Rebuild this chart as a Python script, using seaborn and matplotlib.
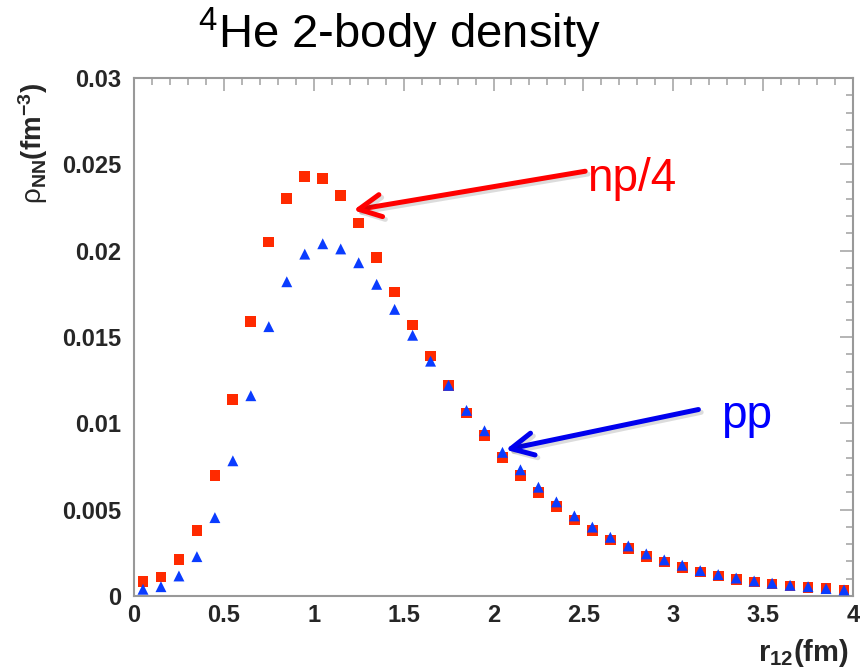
import matplotlib
matplotlib.use("Agg")
import matplotlib.pyplot as plt
import matplotlib.patheffects as pe
from matplotlib.ticker import MultipleLocator, FuncFormatter
import seaborn as sns
import pandas as pd

# ---- data ----
r12 = [0.05, 0.15, 0.25, 0.35, 0.45, 0.55, 0.65, 0.75, 0.85, 0.95,
       1.05, 1.15, 1.25, 1.35, 1.45, 1.55, 1.65, 1.75, 1.85, 1.95,
       2.05, 2.15, 2.25, 2.35, 2.45, 2.55, 2.65, 2.75, 2.85, 2.95,
       3.05, 3.15, 3.25, 3.35, 3.45, 3.55, 3.65, 3.75, 3.85, 3.95]
np4 = [0.00083, 0.0011, 0.0021, 0.0038, 0.0070, 0.0114, 0.0159, 0.0205, 0.0230, 0.0243,
       0.0242, 0.0232, 0.0216, 0.0196, 0.0176, 0.0157, 0.0139, 0.0122, 0.0106, 0.0093,
       0.0080, 0.0070, 0.0060, 0.0052, 0.0044, 0.0038, 0.00325, 0.00275, 0.00228, 0.00197,
       0.00166, 0.00139, 0.00116, 0.00097, 0.00081, 0.0007, 0.00058, 0.0005, 0.00043, 0.00035]
pp = [0.00039, 0.00054, 0.00116, 0.00228, 0.00454, 0.00783, 0.0116, 0.0156, 0.0182, 0.0198,
      0.0204, 0.0201, 0.0193, 0.01805, 0.0166, 0.0151, 0.0136, 0.0122, 0.01075, 0.00957,
      0.00832, 0.00731, 0.0063, 0.00545, 0.00464, 0.00399, 0.0034, 0.0029, 0.00244, 0.00209,
      0.00178, 0.00147, 0.00124, 0.00104, 0.00087, 0.00074, 0.00062, 0.00054, 0.00043, 0.00035]
x_ticks = [0, 0.5, 1, 1.5, 2, 2.5, 3, 3.5, 4]
y_ticks = [0, 0.005, 0.01, 0.015, 0.02, 0.025, 0.03]

df_np = pd.DataFrame({"r12": r12, "rho": np4})
df_pp = pd.DataFrame({"r12": r12, "rho": pp})

sns.set_theme(style="white")
plt.rcParams["font.family"] = ["Liberation Sans", "DejaVu Sans"]
plt.rcParams["mathtext.fontset"] = "custom"
plt.rcParams["mathtext.rm"] = "Liberation Sans"
plt.rcParams["mathtext.it"] = "Liberation Sans:italic"
plt.rcParams["mathtext.bf"] = "Liberation Sans:bold"

fig = plt.figure(figsize=(8.61, 6.68), dpi=100)
ax = fig.add_axes([134 / 861, 72 / 668, 719 / 861, 518 / 668])

sns.scatterplot(data=df_np, x="r12", y="rho", marker="s", s=60, color="#ff2a00",
                edgecolor="none", ax=ax, zorder=3)
sns.scatterplot(data=df_pp, x="r12", y="rho", marker="^", s=62, color="#0a3cff",
                edgecolor="none", ax=ax, zorder=4)

ax.set_xlim(0, 4)
ax.set_ylim(0, 0.03)
ax.set_xticks(x_ticks)
ax.set_yticks(y_ticks)
ax.xaxis.set_minor_locator(MultipleLocator(0.1))
ax.yaxis.set_minor_locator(MultipleLocator(0.001))
fmt = FuncFormatter(lambda v, p: "%g" % v)
ax.xaxis.set_major_formatter(fmt)
ax.yaxis.set_major_formatter(fmt)
ax.set_xlabel("")
ax.set_ylabel("")

tick_col = "#a8a8a8"
ax.tick_params(which="both", direction="in", top=True, right=True, color=tick_col, width=1.2)
ax.tick_params(which="major", length=9.5)
ax.tick_params(which="minor", length=5)
ax.tick_params(axis="x", which="major", pad=6, labelsize=17)
ax.tick_params(axis="y", which="major", pad=9, labelsize=17)
for lab in ax.get_xticklabels() + ax.get_yticklabels():
    lab.set_fontweight("bold")
for sp in ax.spines.values():
    sp.set_color("#999999")
    sp.set_linewidth(1.5)

# title
fig.text(198 / 861, 1 - 6 / 668, r"$\mathregular{^4}$He 2-body density", fontsize=34,
         ha="left", va="top", color="black")
# y label
fig.text(33 / 861, 1 - 143 / 668, r"$\mathrm{\rho}_{\mathbf{NN}}\mathbf{(fm^{-3})}$",
         fontsize=20, rotation=90, ha="center", va="center")
# x label
fig.text(849 / 861, 1 - 661 / 668, r"$\mathbf{r_{12}(fm)}$", fontsize=21,
         ha="right", va="baseline")

shadow = [pe.SimpleLineShadow(offset=(2, -2), shadow_color="k", alpha=0.15), pe.Normal()]
ax.annotate("", xy=(1.22, 0.02234), xytext=(2.51, 0.0246),
            arrowprops=dict(arrowstyle="->,head_length=0.8,head_width=0.4", lw=3.6,
                            color="#ff0000", mutation_scale=20, shrinkA=0, shrinkB=0,
                            path_effects=shadow))
ax.annotate("", xy=(2.067, 0.00847), xytext=(3.14, 0.0108),
            arrowprops=dict(arrowstyle="->,head_length=0.8,head_width=0.4", lw=3.6,
                            color="#0000ee", mutation_scale=20, shrinkA=0, shrinkB=0,
                            path_effects=shadow))
ax.text(2.52, 0.02344, "np/4", color="#ff0000", fontsize=33, ha="left", va="baseline")
ax.text(3.265, 0.00975, "pp", color="#0000ff", fontsize=33, ha="left", va="baseline")

fig.savefig("out.png", dpi=100)
